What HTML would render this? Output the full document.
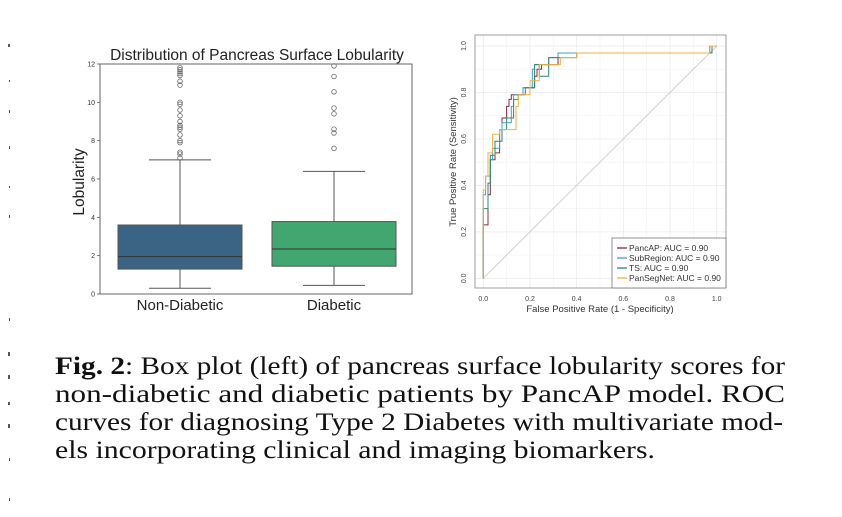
<!DOCTYPE html>
<html><head><meta charset="utf-8"><style>
html,body{margin:0;padding:0;background:#fff;}
svg{display:block;}
</style></head><body>
<svg id="fig" width="842" height="517" viewBox="0 0 842 517" xmlns="http://www.w3.org/2000/svg">
<rect width="842" height="517" fill="#fff"/>
<g fill="#555">
<rect x="8" y="44" width="2" height="3"/><rect x="9" y="80" width="1" height="2"/><rect x="9" y="110" width="1" height="3"/><rect x="9" y="146" width="1" height="3"/><rect x="9" y="186" width="1" height="2"/><rect x="9" y="215" width="1" height="3"/><rect x="9" y="318" width="1" height="3"/><rect x="8" y="352" width="2" height="4"/><rect x="8" y="375" width="2" height="4"/><rect x="8" y="402" width="2" height="3"/><rect x="8" y="424" width="2" height="4"/><rect x="9" y="458" width="1" height="3"/><rect x="9" y="498" width="1" height="3"/>
</g>
<g id="box"></g>
<g id="roc"></g>
<g font-family="'Liberation Serif', serif" font-size="25" fill="#111">
<text x="55" y="374" textLength="730" lengthAdjust="spacingAndGlyphs"><tspan font-weight="bold">Fig. 2</tspan>: Box plot (left) of pancreas surface lobularity scores for</text>
<text x="55" y="402" textLength="730" lengthAdjust="spacingAndGlyphs">non-diabetic and diabetic patients by PancAP model.  ROC</text>
<text x="55" y="430" textLength="728" lengthAdjust="spacingAndGlyphs">curves for diagnosing Type 2 Diabetes with multivariate mod-</text>
<text x="55" y="458" textLength="600" lengthAdjust="spacingAndGlyphs">els incorporating clinical and imaging biomarkers.</text>
</g>
</svg>
<script>
const NS='http://www.w3.org/2000/svg';
// ---- box plot data ----
const boxCategories=['Non-Diabetic','Diabetic'];
const boxQ1=[1.3,1.45];
const boxMedian=[1.95,2.35];
const boxQ3=[3.6,3.78];
const whiskerLow=[0.3,0.45];
const whiskerHigh=[7.0,6.4];
const outliersNonDiabetic=[7.1,7.3,7.4,7.9,8.0,8.3,8.6,8.7,8.8,9.0,9.3,9.6,9.9,10.0,10.9,11.1,11.4,11.5,11.6,11.7,11.8];
const outliersDiabetic=[7.6,8.4,8.6,9.4,9.7,10.55,11.35,11.9];
const boxYTicks=[0,2,4,6,8,10,12];
// ---- ROC data ----
const rocNames=['PancAP: AUC = 0.90','SubRegion: AUC = 0.90','TS: AUC = 0.90','PanSegNet: AUC = 0.90'];
const fprPancAP=[0,0,0.02,0.02,0.03,0.03,0.05,0.05,0.07,0.07,0.08,0.08,0.10,0.10,0.11,0.11,0.12,0.12,0.17,0.17,0.22,0.22,0.23,0.23,0.25,0.25,0.32,0.32,0.97,0.97,1];
const tprPancAP=[0,0.23,0.23,0.36,0.36,0.51,0.51,0.54,0.54,0.64,0.64,0.69,0.69,0.74,0.74,0.77,0.77,0.79,0.79,0.82,0.82,0.87,0.87,0.90,0.90,0.92,0.92,0.97,0.97,1,1];
const fprSubRegion=[0,0,0.01,0.01,0.03,0.03,0.04,0.04,0.07,0.07,0.08,0.08,0.12,0.12,0.13,0.13,0.17,0.17,0.21,0.21,0.22,0.22,0.28,0.28,0.32,0.32,0.36,0.36,0.98,0.98,1];
const tprSubRegion=[0,0.36,0.36,0.44,0.44,0.51,0.51,0.56,0.56,0.64,0.64,0.67,0.67,0.74,0.74,0.79,0.79,0.82,0.82,0.90,0.90,0.92,0.92,0.95,0.95,0.97,0.97,0.97,0.97,1,1];
const fprTS=[0,0,0.02,0.02,0.03,0.03,0.05,0.05,0.08,0.08,0.10,0.10,0.13,0.13,0.15,0.15,0.18,0.18,0.22,0.22,0.24,0.24,0.28,0.28,0.32,0.32,0.40,0.40,0.98,0.98,1];
const tprTS=[0,0.30,0.30,0.41,0.41,0.53,0.53,0.59,0.59,0.64,0.64,0.69,0.69,0.77,0.77,0.79,0.79,0.82,0.82,0.92,0.92,0.87,0.87,0.95,0.95,0.95,0.95,0.97,0.97,1,1];
const fprPanSegNet=[0,0,0.01,0.01,0.02,0.02,0.04,0.04,0.07,0.07,0.09,0.09,0.14,0.14,0.15,0.15,0.20,0.20,0.24,0.24,0.27,0.27,0.33,0.33,0.40,0.40,0.97,0.97,1];
const tprPanSegNet=[0,0.38,0.38,0.44,0.44,0.54,0.54,0.62,0.62,0.64,0.64,0.64,0.64,0.74,0.74,0.79,0.79,0.85,0.85,0.92,0.92,0.92,0.92,0.95,0.95,0.97,0.97,1,1];
const rocColors=['#8b2a3a','#4a9bd0','#2a8a78','#f0b040'];
const rocTicks=[0,0.2,0.4,0.6,0.8,1.0];

function mk(tag,attrs,parent){const e=document.createElementNS(NS,tag);for(const k in attrs)e.setAttribute(k,attrs[k]);parent.appendChild(e);return e;}

// ---- Box plot ----
const B=document.getElementById('box');
const bx0=100,bx1=412,by0=64,by1=294;
const by=v=>by1-(v/12)*(by1-by0);
const centers=[180,334];const bw=124;const fills=['#3b6383','#42a671'];
const tt=mk('text',{x:257,y:60,'text-anchor':'middle','font-family':'Liberation Sans, sans-serif','font-size':15.5,fill:'#222'},B);


tt.textContent='Distribution of Pancreas Surface Lobularity';
boxYTicks.forEach(t=>{
  const l=mk('line',{x1:bx0-3,x2:bx0,y1:by(t),y2:by(t),stroke:'#555','stroke-width':0.8},B);
  
  
  const tx=mk('text',{x:bx0-5,y:by(t)+2.5,'text-anchor':'end','font-family':'Liberation Sans, sans-serif','font-size':7,fill:'#333'},B);
  
  
  tx.textContent=t;
});
const yl=mk('text',{x:84,y:182,'text-anchor':'middle','font-family':'Liberation Sans, sans-serif','font-size':15.5,fill:'#222',transform:'rotate(-90 84 182)'},B);


yl.textContent='Lobularity';
const outs=[outliersNonDiabetic,outliersDiabetic];
boxCategories.forEach((c,i)=>{
  const cx=centers[i];
  const w=mk('line',{x1:cx,x2:cx,y1:by(whiskerLow[i]),y2:by(whiskerHigh[i]),stroke:'#555','stroke-width':1},B);
  
  
  [whiskerLow[i],whiskerHigh[i]].forEach(v=>{
    const cap=mk('line',{x1:cx-31,x2:cx+31,y1:by(v),y2:by(v),stroke:'#555','stroke-width':1},B);
    
    
  });
  const r=mk('rect',{x:cx-bw/2,y:by(boxQ3[i]),width:bw,height:by(boxQ1[i])-by(boxQ3[i]),fill:fills[i],stroke:'#555','stroke-width':1},B);
  
  
  const m=mk('line',{x1:cx-bw/2,x2:cx+bw/2,y1:by(boxMedian[i]),y2:by(boxMedian[i]),stroke:'#333','stroke-width':1},B);
  
  
  outs[i].forEach(v=>{
    const o=mk('circle',{cx:cx,cy:by(v),r:2.3,fill:'none',stroke:'#666','stroke-width':0.8},B);
    
    
  });
  const xl=mk('text',{x:cx,y:310,'text-anchor':'middle','font-family':'Liberation Sans, sans-serif','font-size':15,fill:'#222'},B);
  
  
  xl.textContent=c;
});
const bf=mk('rect',{x:bx0,y:by0,width:bx1-bx0,height:by1-by0,fill:'none',stroke:'#666','stroke-width':1},B);



// ---- ROC ----
const R=document.getElementById('roc');
const rx0=483.3,rx1=716.7,ry0=278.3,ry1=46;
const rx=v=>rx0+v*(rx1-rx0), ry=v=>ry0-v*(ry0-ry1);
for(let g=0;g<=10;g++){const v=g/10;
  const gv=mk('line',{x1:rx(v),x2:rx(v),y1:35,y2:288,stroke:g%2?'#f3f3f3':'#e8e8e8','stroke-width':0.7},R);
  
  
  const gh=mk('line',{x1:475,x2:726,y1:ry(v),y2:ry(v),stroke:g%2?'#f3f3f3':'#e8e8e8','stroke-width':0.7},R);
  
  
}
const diag=mk('line',{x1:rx(0),y1:ry(0),x2:rx(1),y2:ry(1),stroke:'#cfcfcf','stroke-width':1},R);


const series=[[fprPancAP,tprPancAP],[fprSubRegion,tprSubRegion],[fprTS,tprTS],[fprPanSegNet,tprPanSegNet]];
series.forEach((s,i)=>{
  const d=s[0].map((f,j)=>(j?'L':'M')+rx(f).toFixed(1)+','+ry(s[1][j]).toFixed(1)).join(' ');
  const p=mk('path',{d:d,fill:'none',stroke:rocColors[i],'stroke-width':1},R);
  
  
});
rocTicks.forEach(t=>{
  const a=mk('text',{x:rx(t),y:301,'text-anchor':'middle','font-family':'Liberation Sans, sans-serif','font-size':7,fill:'#444'},R);
  
  
  a.textContent=t.toFixed(1);
  const b=mk('text',{x:466,y:ry(t),'text-anchor':'middle','font-family':'Liberation Sans, sans-serif','font-size':7,fill:'#444',transform:`rotate(-90 466 ${ry(t)})`},R);
  
  
  b.textContent=t.toFixed(1);
});
const rxl=mk('text',{x:600,y:312,'text-anchor':'middle','font-family':'Liberation Sans, sans-serif','font-size':9.5,fill:'#333'},R);


rxl.textContent='False Positive Rate (1 - Specificity)';
const ryl=mk('text',{x:456,y:162,'text-anchor':'middle','font-family':'Liberation Sans, sans-serif','font-size':9.5,fill:'#333',transform:'rotate(-90 456 162)'},R);


ryl.textContent='True Positive Rate (Sensitivity)';
const rf=mk('rect',{x:475,y:35,width:251,height:253,fill:'none',stroke:'#888','stroke-width':0.8},R);


const lg=mk('rect',{x:612,y:238,width:114,height:50,fill:'#fff',stroke:'#777','stroke-width':0.8},R);


rocNames.forEach((n,i)=>{
  const y=248+i*10;
  const ll=mk('line',{x1:617,x2:627,y1:y,y2:y,stroke:rocColors[i],'stroke-width':1.3},R);
  
  
  const lt=mk('text',{x:629,y:y+3,'font-family':'Liberation Sans, sans-serif','font-size':8.5,fill:'#333'},R);
  
  
  lt.textContent=n;
});
</script>
</body></html>
